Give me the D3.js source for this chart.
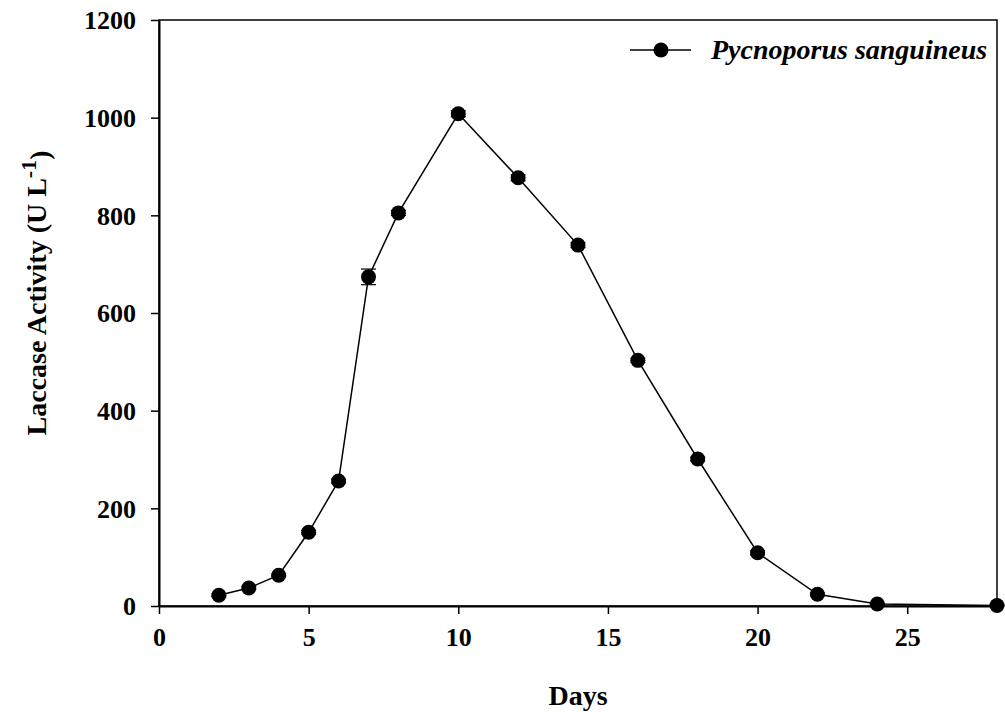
<!DOCTYPE html>
<html>
<head>
<meta charset="utf-8">
<script src="https://cdn.jsdelivr.net/npm/d3@7"></script>
<style>
  body { margin: 0; background: #fff; }
  svg text { font-family: "Liberation Serif", "Times New Roman", serif; font-weight: bold; }
</style>
</head>
<body>
<svg width="1005" height="712"></svg>
<script>
var days = [2, 3, 4, 5, 6, 7, 8, 10, 12, 14, 16, 18, 20, 22, 24, 28];
var activity = [22, 37, 63, 151, 256, 674, 805, 1008, 877, 739, 503, 301, 109, 24, 4, 1];
var errors = [3, 3, 3, 4, 4, 16, 5, 6, 6, 5, 4, 4, 4, 3, 2, 1];
var xTicks = [0, 5, 10, 15, 20, 25];
var yTicks = [0, 200, 400, 600, 800, 1000, 1200];
var seriesName = "Pycnoporus sanguineus";

var margin = {top: 20, right: 8, bottom: 106, left: 159};
var svg = d3.select("svg");
var width = 1005 - margin.left - margin.right;
var height = 712 - margin.top - margin.bottom;
var g = svg.append("g").attr("transform", "translate(" + margin.left + "," + margin.top + ")");

var x = d3.scaleLinear().domain([0, 28]).range([0, width]);
var y = d3.scaleLinear().domain([0, 1200]).range([height, 0]);

var data = days.map(function(d, i) { return {day: d, v: activity[i], e: errors[i]}; });

// frame
g.append("rect").attr("x", 0).attr("y", 0).attr("width", width).attr("height", height)
  .attr("fill", "none").attr("stroke", "#000").attr("stroke-width", 1.5);

var xAxis = g.append("g").attr("transform", "translate(0," + height + ")")
  .call(d3.axisBottom(x).tickValues(xTicks).tickFormat(d3.format("d")).tickSize(8).tickSizeOuter(0).tickPadding(14));
var yAxis = g.append("g")
  .call(d3.axisLeft(y).tickValues(yTicks).tickFormat(d3.format("d")).tickSize(8).tickSizeOuter(0).tickPadding(15));

[xAxis, yAxis].forEach(function(a) {
  a.select(".domain").attr("stroke-width", 2);
  a.selectAll(".tick line").attr("stroke-width", 1.5);
  a.selectAll(".tick text").style("font-size", "26px").attr("fill", "#000");
});
xAxis.selectAll(".tick text").attr("dy", "0.71em");
yAxis.selectAll(".tick text").attr("dy", "0.34em");

// line
var line = d3.line().x(function(d) { return x(d.day); }).y(function(d) { return y(d.v); });
g.append("path").datum(data).attr("d", line)
  .attr("fill", "none").attr("stroke", "#000").attr("stroke-width", 1.5);

// error bars
var eb = g.selectAll("g.err").data(data).enter().append("g").attr("class", "err");
eb.append("line")
  .attr("x1", function(d) { return x(d.day); }).attr("x2", function(d) { return x(d.day); })
  .attr("y1", function(d) { return y(d.v + d.e); }).attr("y2", function(d) { return y(d.v - d.e); })
  .attr("stroke", "#000").attr("stroke-width", 1.2);
[1, -1].forEach(function(s) {
  eb.append("line")
    .attr("x1", function(d) { return x(d.day) - 7.5; }).attr("x2", function(d) { return x(d.day) + 7.5; })
    .attr("y1", function(d) { return y(d.v + s * d.e); }).attr("y2", function(d) { return y(d.v + s * d.e); })
    .attr("stroke", "#000").attr("stroke-width", 1.2);
});

// markers
g.selectAll("circle.pt").data(data).enter().append("circle").attr("class", "pt")
  .attr("cx", function(d) { return x(d.day); })
  .attr("cy", function(d) { return y(d.v); })
  .attr("r", 7.5).attr("fill", "#000");

// legend
var lg = svg.append("g").attr("transform", "translate(630,50)");
lg.append("line").attr("x1", 0).attr("x2", 61).attr("y1", 0).attr("y2", 0)
  .attr("stroke", "#000").attr("stroke-width", 1.5);
lg.append("circle").attr("cx", 31).attr("cy", 0).attr("r", 7.5).attr("fill", "#000");
lg.append("text").attr("x", 81).attr("y", 9).style("font-size", "28px")
  .style("font-style", "italic").text(seriesName);

// axis titles
svg.append("text").attr("x", margin.left + width / 2).attr("y", 705)
  .attr("text-anchor", "middle").style("font-size", "28px").text("Days");

var yl = svg.append("text")
  .attr("transform", "translate(46," + 293 + ") rotate(-90)")
  .attr("text-anchor", "middle").style("font-size", "28px");
yl.append("tspan").text("Laccase Activity (U L");
yl.append("tspan").attr("dy", "-0.45em").style("font-size", "22px").text("-1");
yl.append("tspan").attr("dy", "0.45em").text(")");
</script>
</body>
</html>
